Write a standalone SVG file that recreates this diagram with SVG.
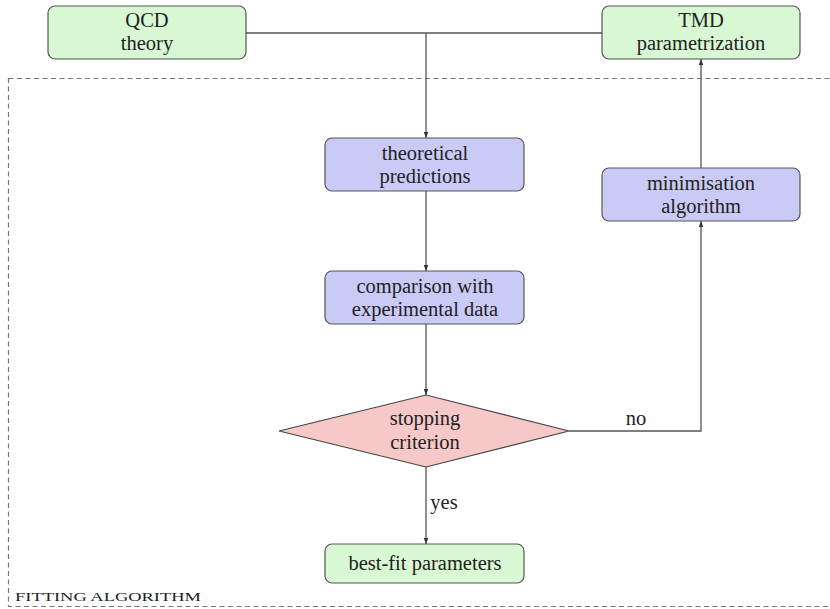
<svg xmlns="http://www.w3.org/2000/svg" width="830" height="609" viewBox="0 0 830 609">
<style>
.g{fill:#d8f7d3;stroke:#555;stroke-width:1.2}
.b{fill:#cacaf6;stroke:#555;stroke-width:1.2}
.r{fill:#f6c8c8;stroke:#444;stroke-width:1.2}
.t{font-family:'Liberation Serif','DejaVu Serif',serif;font-size:20.5px;fill:#222;text-anchor:middle}
.l{fill:none;stroke:#555;stroke-width:1.3}
</style>
<defs>
<marker id="a" viewBox="0 0 8 8" refX="8" refY="4" markerWidth="6" markerHeight="6" orient="auto" markerUnits="userSpaceOnUse">
<path d="M0,1 L8,4 L0,7 Z" fill="#333"/>
</marker>
</defs>
<rect x="8.5" y="78.5" width="830" height="528" fill="none" stroke="#777" stroke-width="1.2" stroke-dasharray="5,3.5"/>
<text x="15" y="601" font-family="'Liberation Serif',serif" font-size="13" fill="#222" textLength="186" lengthAdjust="spacingAndGlyphs">FITTING  ALGORITHM</text>
<g id="connectors">
<path class="l" d="M246,33 H602"/>
<path class="l" d="M426,33 V138" marker-end="url(#a)"/>
<path class="l" d="M426,191 V271" marker-end="url(#a)"/>
<path class="l" d="M426,324 V395" marker-end="url(#a)"/>
<path class="l" d="M426,467 V544" marker-end="url(#a)"/>
<path class="l" d="M569,431 H701 V221" marker-end="url(#a)"/>
<path class="l" d="M701,168 V59" marker-end="url(#a)"/>
<text class="t" x="636" y="425">no</text>
<text class="t" x="444" y="509">yes</text>
</g>
<g id="qcd"><rect class="g" x="48" y="6" width="198" height="53" rx="7"/><text class="t" x="147" y="27">QCD</text><text class="t" x="147" y="50">theory</text></g>
<g id="tmd"><rect class="g" x="602" y="6" width="198" height="53" rx="7"/><text class="t" x="701" y="27">TMD</text><text class="t" x="701" y="50">parametrization</text></g>
<g id="pred"><rect class="b" x="325" y="138" width="199" height="53" rx="7"/><text class="t" x="425" y="160">theoretical</text><text class="t" x="425" y="183">predictions</text></g>
<g id="comp"><rect class="b" x="325" y="271" width="199" height="53" rx="7"/><text class="t" x="425" y="293">comparison with</text><text class="t" x="425" y="316">experimental data</text></g>
<g id="min"><rect class="b" x="602" y="168" width="198" height="53" rx="7"/><text class="t" x="701" y="190">minimisation</text><text class="t" x="701" y="213">algorithm</text></g>
<g id="stop"><polygon class="r" points="279,431 426,395 569,431 426,467"/><text class="t" x="425" y="425">stopping</text><text class="t" x="425" y="449">criterion</text></g>
<g id="best"><rect class="g" x="325" y="544" width="199" height="39" rx="7"/><text class="t" x="425" y="570">best-fit parameters</text></g>
</svg>
